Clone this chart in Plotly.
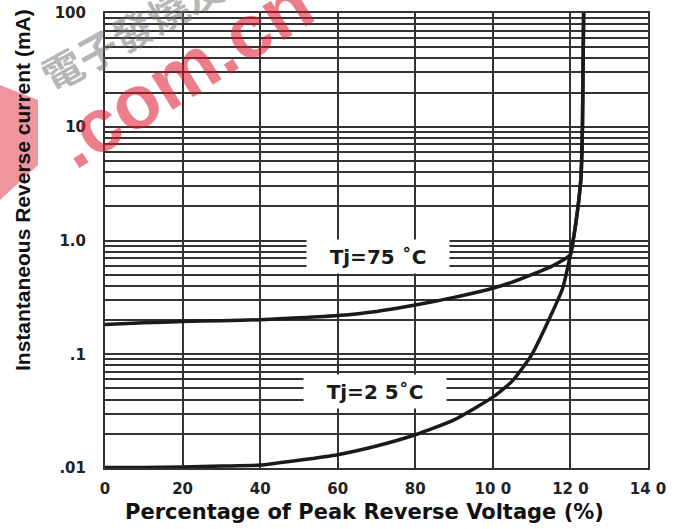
import plotly.graph_objects as go
import numpy as np

# ---- data ----
x_ticks = [0, 20, 40, 60, 80, 100, 120, 140]
x_tick_text = ["0", "20", "40", "60", "80", "10 0", "12 0", "14 0"]
y_ticks = [0.01, 0.1, 1, 10, 100]
y_tick_text = [".01", ".1", "1.0", "10", "100"]

x_75 = [0, 10, 20, 30, 40, 50, 60, 70, 80, 90, 100, 105, 110, 115, 118, 120, 120.7, 121.8, 122.7, 123.1, 123.4]
y_75 = [0.183, 0.189, 0.194, 0.197, 0.201, 0.209, 0.219, 0.238, 0.271, 0.316, 0.38, 0.43, 0.50, 0.59, 0.67, 0.75, 1.0, 1.8, 3.5, 10, 100]

x_25 = [0, 10, 20, 30, 40, 50, 60, 70, 80, 90, 100, 105, 110, 115, 118, 120, 120.7, 121.8, 122.7, 123.1, 123.4]
y_25 = [0.0101, 0.0101, 0.0102, 0.0104, 0.0106, 0.0117, 0.0131, 0.0156, 0.0196, 0.0265, 0.042, 0.058, 0.0986, 0.221, 0.38, 0.75, 1.0, 1.8, 3.5, 10, 100]

labels = ["Tj=75 ˚C", "Tj=2 5˚C"]
label_x = [70.4, 69.6]
label_y = [0.724, 0.0473]

minor_vals = [m * 10.0 ** e for e in range(-2, 2) for m in range(2, 10)]

GRID = "#333333"
L, R, T, B = 105, 39, 13, 61
W, H = 687, 529
PW, PH = W - L - R, H - T - B


def px(x):
    return (x - L) / PW


def py(y):
    return 1 - (y - T) / PH


fig = go.Figure()
for xs, ys in [(x_75, y_75), (x_25, y_25)]:
    fig.add_trace(go.Scatter(x=xs, y=ys, mode="lines",
                             line=dict(color="#1a1a1a", width=3.5, shape="spline", smoothing=0.5),
                             showlegend=False, hoverinfo="skip"))

annos = []
for t, lx, ly in zip(labels, label_x, label_y):
    annos.append(dict(x=lx, y=np.log10(ly), xref="x", yref="y", text=t, showarrow=False,
                      xanchor="center", yanchor="middle",
                      bgcolor="white", width=142, height=33, borderpad=0,
                      font=dict(family="DejaVu Sans", size=20, color="#1a1a1a", weight="bold")))

# axis titles
annos.append(dict(x=px(364), y=py(512), xref="paper", yref="paper",
                  text="Percentage of Peak Reverse Voltage (%)", showarrow=False,
                  xanchor="center", yanchor="middle",
                  font=dict(family="DejaVu Sans", size=21, color="#111111", weight="bold")))
annos.append(dict(x=px(23), y=py(190), xref="paper", yref="paper",
                  text="Instantaneous Reverse current (mA)", showarrow=False, textangle=-90,
                  xanchor="center", yanchor="middle",
                  font=dict(family="Liberation Sans", size=21, color="#111111", weight="bold")))

# watermark
annos.append(dict(x=px(132), y=py(30), xref="paper", yref="paper",
                  text="電子發燒友", showarrow=False, textangle=-29,
                  xanchor="center", yanchor="middle",
                  font=dict(family="Noto Sans CJK TC", size=40, color="rgba(110,110,110,0.5)", weight="bold")))
annos.append(dict(x=px(182), y=py(72), xref="paper", yref="paper",
                  text=".com.cn", showarrow=False, textangle=-32,
                  xanchor="center", yanchor="middle",
                  font=dict(family="Liberation Sans", size=76, color="rgba(220,20,40,0.55)", weight="bold")))

shape_path = "M {} {} L {} {} L {} {} L {} {} Z".format(px(0), py(85), px(38), py(100), px(38), py(165), px(0), py(200))

fig.update_layout(
    width=W, height=H,
    margin=dict(l=L, r=R, t=T, b=B),
    plot_bgcolor="white", paper_bgcolor="white",
    annotations=annos,
    shapes=[dict(type="path", path=shape_path, xref="paper", yref="paper",
                 fillcolor="rgba(220,20,40,0.45)", line=dict(width=0), layer="above")],
    xaxis=dict(range=[0, 140], tickvals=x_ticks, ticktext=x_tick_text, automargin=False,
               showgrid=True, gridcolor=GRID, gridwidth=2, zeroline=False,
               showline=True, linecolor=GRID, linewidth=2, mirror=True, ticks="",
               ticklabelstandoff=6,
               tickfont=dict(family="DejaVu Sans", size=15, color="#222222", weight="bold")),
    yaxis=dict(type="log", range=[-2, 2], tickvals=y_ticks, ticktext=y_tick_text, automargin=False,
               showgrid=True, gridcolor=GRID, gridwidth=1.5, zeroline=False,
               showline=True, linecolor=GRID, linewidth=2, mirror=True, ticks="",
               ticklabelstandoff=14,
               minor=dict(tickvals=minor_vals, showgrid=True, gridcolor=GRID, gridwidth=1.5, ticks=""),
               tickfont=dict(family="DejaVu Sans", size=15, color="#222222", weight="bold")),
)

fig.write_html("out.html", config={"displayModeBar": False},
               post_script="document.body.style.margin='0px';")
